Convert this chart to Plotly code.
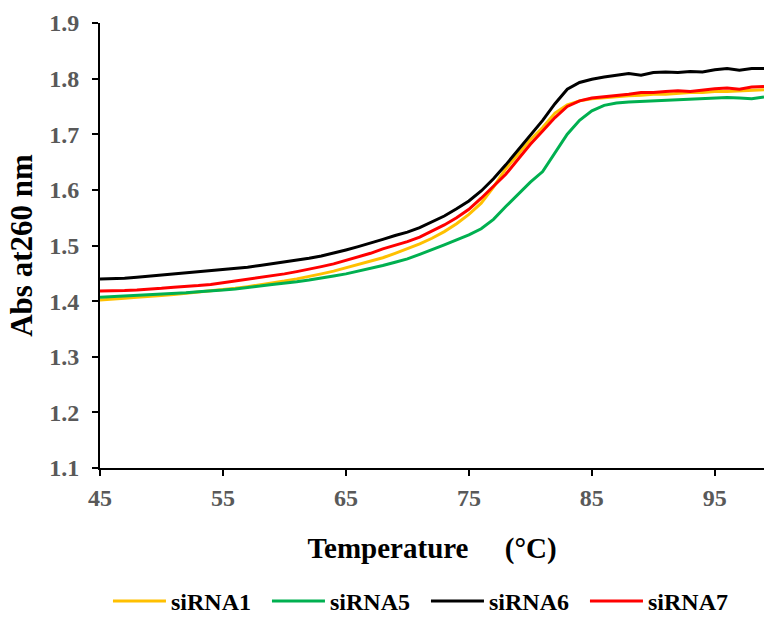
import plotly.graph_objects as go

temperature = list(range(45, 100))

sirna1 = [1.402, 1.403, 1.405, 1.407, 1.408, 1.410, 1.412, 1.414, 1.416, 1.418,
          1.420, 1.423, 1.426, 1.429, 1.433, 1.436, 1.440, 1.444, 1.449, 1.454,
          1.460, 1.465, 1.471, 1.478, 1.486, 1.494, 1.503, 1.513, 1.525, 1.539,
          1.556, 1.576, 1.605, 1.638, 1.664, 1.690, 1.712, 1.738, 1.753, 1.760,
          1.764, 1.766, 1.768, 1.769, 1.770, 1.772, 1.772, 1.774, 1.775, 1.775,
          1.777, 1.777, 1.778, 1.779, 1.780]

sirna5 = [1.407, 1.408, 1.409, 1.410, 1.411, 1.412, 1.414, 1.415, 1.417, 1.418,
          1.420, 1.422, 1.424, 1.427, 1.430, 1.432, 1.435, 1.438, 1.441, 1.445,
          1.449, 1.454, 1.458, 1.464, 1.470, 1.476, 1.484, 1.492, 1.501, 1.510,
          1.519, 1.530, 1.547, 1.570, 1.592, 1.614, 1.633, 1.666, 1.700, 1.725,
          1.742, 1.752, 1.756, 1.758, 1.759, 1.760, 1.760, 1.762, 1.763, 1.764,
          1.764, 1.766, 1.765, 1.764, 1.767]

sirna6 = [1.440, 1.440, 1.441, 1.443, 1.445, 1.447, 1.449, 1.450, 1.452, 1.454,
          1.456, 1.459, 1.461, 1.464, 1.467, 1.470, 1.473, 1.477, 1.481, 1.486,
          1.492, 1.498, 1.504, 1.511, 1.518, 1.524, 1.532, 1.542, 1.553, 1.566,
          1.580, 1.598, 1.620, 1.645, 1.672, 1.698, 1.725, 1.755, 1.781, 1.793,
          1.799, 1.803, 1.806, 1.809, 1.806, 1.811, 1.812, 1.811, 1.813, 1.812,
          1.816, 1.818, 1.815, 1.818, 1.818]

sirna7 = [1.418, 1.418, 1.419, 1.420, 1.421, 1.423, 1.425, 1.426, 1.428, 1.430,
          1.433, 1.436, 1.439, 1.442, 1.445, 1.449, 1.453, 1.457, 1.462, 1.467,
          1.473, 1.479, 1.486, 1.494, 1.500, 1.507, 1.515, 1.526, 1.537, 1.550,
          1.565, 1.585, 1.606, 1.628, 1.655, 1.682, 1.706, 1.730, 1.750, 1.760,
          1.765, 1.767, 1.770, 1.772, 1.775, 1.775, 1.777, 1.778, 1.777, 1.780,
          1.782, 1.783, 1.781, 1.785, 1.786]

series_names = ["siRNA1", "siRNA5", "siRNA6", "siRNA7"]
series_values = [sirna1, sirna5, sirna6, sirna7]
series_colors = ["#FFC000", "#00B050", "#000000", "#FF0000"]

x_ticks = [45, 55, 65, 75, 85, 95]
y_ticks = [1.1, 1.2, 1.3, 1.4, 1.5, 1.6, 1.7, 1.8, 1.9]

FONT = "Liberation Serif, Times New Roman, serif"

fig = go.Figure()
for name, vals, col in zip(series_names, series_values, series_colors):
    fig.add_trace(go.Scatter(x=temperature, y=vals, mode="lines", name=name,
                             line=dict(color=col, width=3)))

fig.update_layout(
    width=764, height=624,
    margin=dict(l=100, r=0, t=23, b=156, autoexpand=False),
    paper_bgcolor="white", plot_bgcolor="white",
    font=dict(family=FONT, color="black"),
    showlegend=True,
    legend=dict(orientation="h", x=0.012, xanchor="left", y=-0.3506, yanchor="bottom",
                font=dict(family=FONT, size=24, color="black", weight="bold"),
                itemwidth=53, entrywidth=91, entrywidthmode="pixels",
                traceorder="normal"),
    xaxis=dict(range=[45, 99], tickvals=x_ticks, ticktext=[str(v) for v in x_ticks],
               showline=True, linecolor="black", linewidth=2,
               ticks="outside", ticklen=6, tickwidth=2, tickcolor="black",
               showgrid=False, zeroline=False, ticklabelstandoff=1,
               tickfont=dict(family=FONT, size=24, color="#595959", weight="bold"),
               title=dict(text="Temperature\u3000 (°C)", standoff=28,
                          font=dict(family=FONT, size=29, color="black", weight="bold"))),
    yaxis=dict(range=[1.1, 1.9], tickvals=y_ticks, ticktext=[f"{v:.1f}" for v in y_ticks],
               showline=True, linecolor="black", linewidth=2,
               ticks="outside", ticklen=6, tickwidth=2, tickcolor="black",
               showgrid=False, zeroline=False, ticklabelstandoff=8,
               tickfont=dict(family=FONT, size=24, color="#595959", weight="bold"),
               title=dict(text="Abs at260 nm", standoff=7,
                          font=dict(family=FONT, size=31, color="black", weight="bold"))),
)

fig.write_html("out.html")
